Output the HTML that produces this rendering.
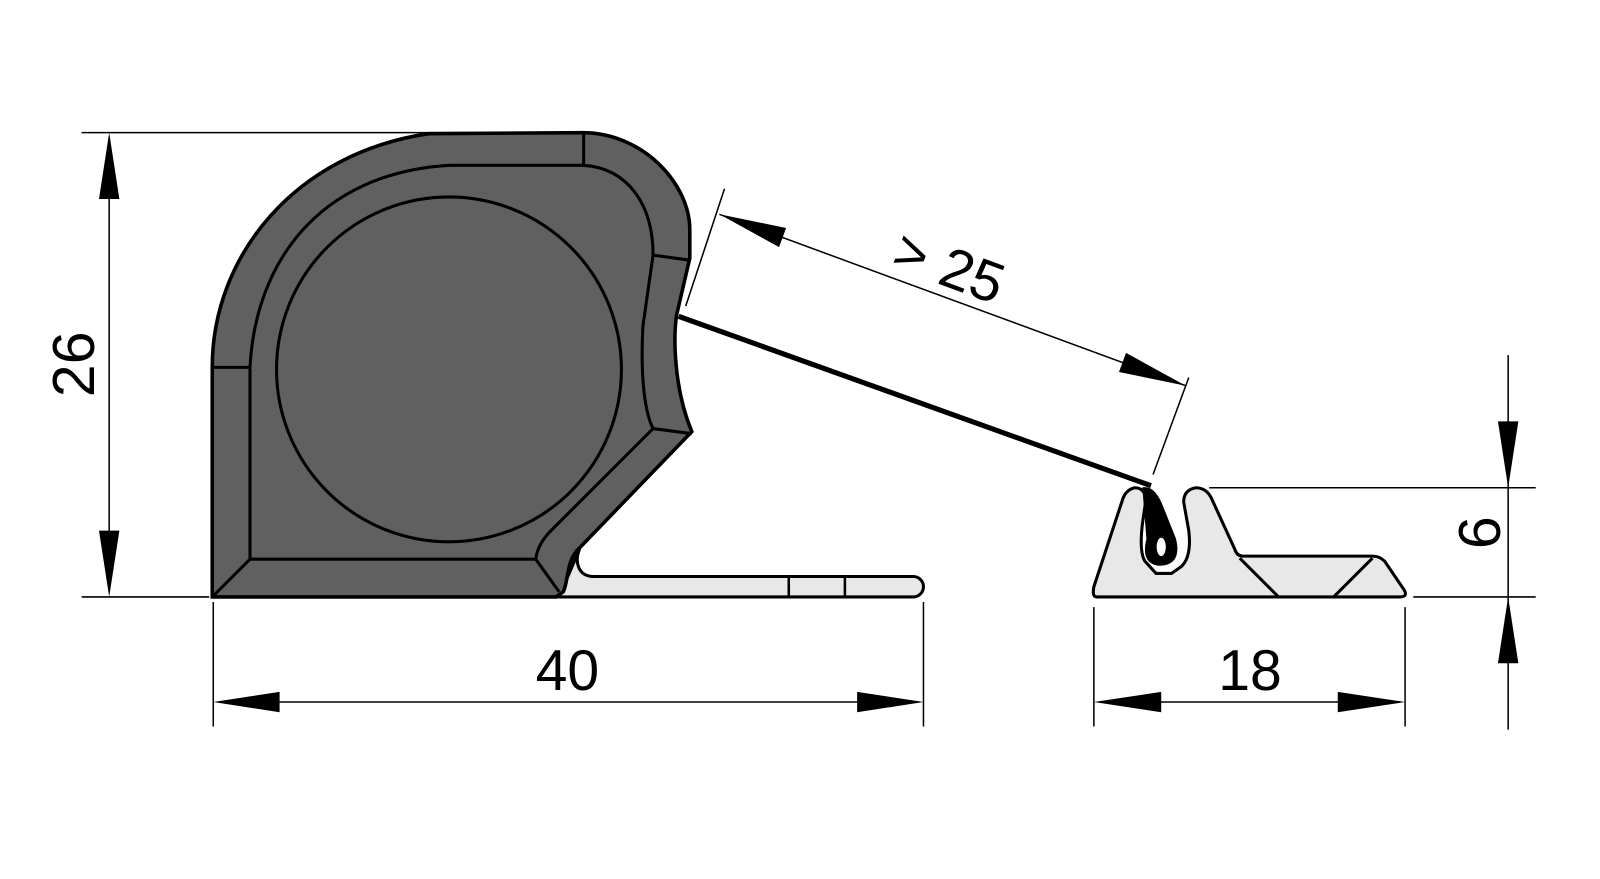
<!DOCTYPE html>
<html><head><meta charset="utf-8"><style>html,body{margin:0;padding:0;background:#fff}svg{display:block}</style></head>
<body>
<svg width="1600" height="879" viewBox="0 0 1600 879" xmlns="http://www.w3.org/2000/svg">
<g transform="scale(1.0204)" font-family="Liberation Sans, sans-serif" fill="none" stroke="#000">
<!-- flap -->
<path d="M568,538 C563,550 566,565 582,565 L895,565 A10,10 0 0 1 895,585 L548,585 Z" fill="#e8e8e8" stroke-width="3"/>
<line x1="773" y1="565" x2="773" y2="585" stroke-width="2.5"/>
<line x1="828" y1="565" x2="828" y2="585" stroke-width="2.5"/>
<!-- main dark body -->
<path d="M208,585 L208,360 C208,250 290,150 420,131 L571,130 C630,130 676,180 676,225 L676,253 L663,309 C660,330 660,380 678,423 L565,540 C555,552 557,570 552,580 L545,585 Z" fill="#606060" stroke-width="3.5"/>
<path d="M208,360 L245,360 C250,260 310,170 440,162 L572,162 M572,130 L572,162 C615,165 640,200 640,250 L630,320 C628,360 630,400 640,420 L540,520 C530,530 526,540 525,548 L245,548 L245,360 M640,250 L676,255 M640,420 L678,425 M245,548 L208,585 M525,548 L548,580" stroke-width="3"/>
<circle cx="440" cy="362" r="169" stroke-width="3"/>
<!-- lever -->
<line x1="665" y1="310" x2="1128" y2="476" stroke-width="5"/>
<!-- right part -->
<path d="M1075,585 L1372,585 Q1380,585 1376,578 L1357,550 Q1352,545 1345,545 L1218,545 Q1212,545 1210,538 L1188,490 Q1183,478 1172,478 Q1160,480 1160,492 L1165,520 Q1168,545 1158,555 L1148,562 L1133,562 L1122,550 Q1116,540 1120,510 L1123,490 Q1122,478 1112,478 Q1103,480 1100,490 L1072,575 Q1070,585 1075,585 Z" fill="#e8e8e8" stroke-width="3"/>
<path d="M1215,547 L1253,585 M1345,547 L1307,585" stroke-width="3"/>
<path d="M1120,478 Q1132,476 1140,498 L1152,528 Q1158,553 1137,554 Q1118,553 1124,528 Z" fill="#000" stroke-width="1"/>
<ellipse cx="1138" cy="536" rx="4.5" ry="9" fill="#fff" stroke="none"/>
<!-- dims 26 -->
<line x1="80" y1="130" x2="575" y2="130" stroke-width="1.5"/>
<line x1="80" y1="585" x2="205" y2="585" stroke-width="1.5"/>
<line x1="107" y1="140" x2="107" y2="575" stroke-width="1.5"/>
<polygon points="107,130 97,195 117,195" fill="#000" stroke="none"/>
<polygon points="107,585 97,520 117,520" fill="#000" stroke="none"/>
<text x="72" y="357" transform="rotate(-90 72 357)" text-anchor="middle" dominant-baseline="central" font-size="58" fill="#000" stroke="none">26</text>
<!-- dims 40 -->
<line x1="209" y1="590" x2="209" y2="712" stroke-width="1.5"/>
<line x1="905" y1="590" x2="905" y2="712" stroke-width="1.5"/>
<line x1="215" y1="688" x2="900" y2="688" stroke-width="1.5"/>
<polygon points="209,688 274,678 274,698" fill="#000" stroke="none"/>
<polygon points="905,688 840,678 840,698" fill="#000" stroke="none"/>
<text x="556" y="676" text-anchor="middle" font-size="56" fill="#000" stroke="none">40</text>
<!-- dims 18 -->
<line x1="1072" y1="595" x2="1072" y2="712" stroke-width="1.5"/>
<line x1="1377" y1="595" x2="1377" y2="712" stroke-width="1.5"/>
<line x1="1078" y1="688" x2="1372" y2="688" stroke-width="1.5"/>
<polygon points="1072,688 1138,678 1138,698" fill="#000" stroke="none"/>
<polygon points="1377,688 1311,678 1311,698" fill="#000" stroke="none"/>
<text x="1225" y="676" text-anchor="middle" font-size="56" fill="#000" stroke="none">18</text>
<!-- dims 6 -->
<line x1="1185" y1="478" x2="1505" y2="478" stroke-width="1.5"/>
<line x1="1385" y1="585" x2="1505" y2="585" stroke-width="1.5"/>
<line x1="1478" y1="348" x2="1478" y2="715" stroke-width="1.5"/>
<polygon points="1478,478 1468,413 1488,413" fill="#000" stroke="none"/>
<polygon points="1478,585 1468,650 1488,650" fill="#000" stroke="none"/>
<text x="1450" y="522" transform="rotate(-90 1450 522)" text-anchor="middle" dominant-baseline="central" font-size="58" fill="#000" stroke="none">6</text>
<!-- dims >25 -->
<line x1="710" y1="185" x2="672" y2="300" stroke-width="1.5"/>
<line x1="1165" y1="370" x2="1130" y2="465" stroke-width="1.5"/>
<line x1="705" y1="210" x2="1162" y2="378" stroke-width="1.5"/>
<g transform="translate(705 210) rotate(20.2)"><polygon points="0,0 66,-10 66,10" fill="#000" stroke="none"/></g>
<g transform="translate(1162 378) rotate(20.2)"><polygon points="0,0 -66,-10 -66,10" fill="#000" stroke="none"/></g>
<text x="930" y="262" transform="rotate(20.2 930 262)" text-anchor="middle" dominant-baseline="central" font-size="56" fill="#000" stroke="none">&gt; 25</text>
</g>
</svg>
</body></html>
